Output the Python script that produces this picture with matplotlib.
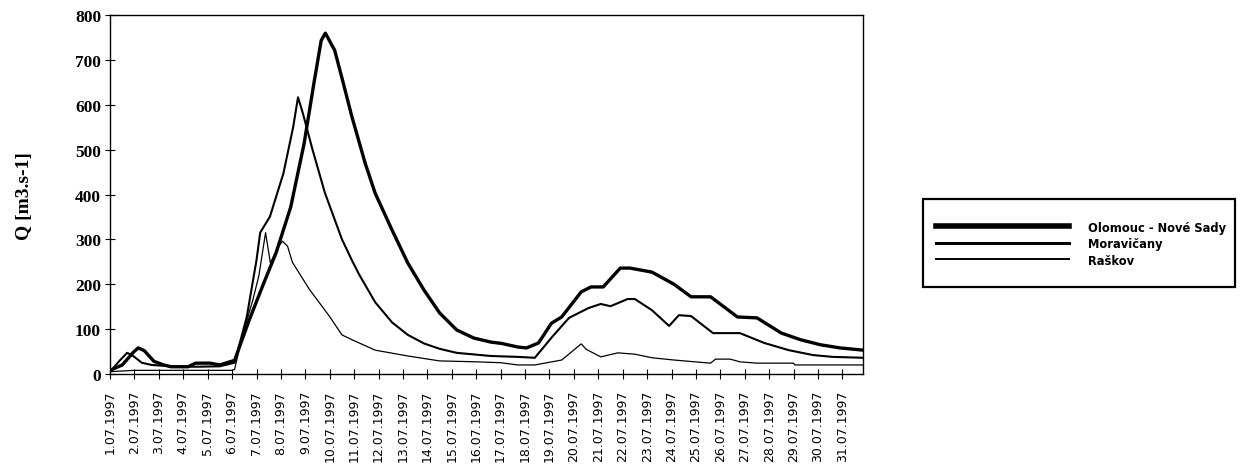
import matplotlib
matplotlib.use("Agg")
import matplotlib.pyplot as plt
from matplotlib.patches import Rectangle

# discharge readings, time in days of July 1997
olomouc_day = [1.0, 1.5, 1.95, 2.15, 2.4, 2.8, 3.2, 3.5, 4.2, 4.5, 5.1, 5.5, 5.9, 6.1,
               6.7, 7.3, 7.8, 8.4, 8.95, 9.35, 9.65, 9.82, 10.2, 10.5, 10.9,
               11.45, 11.86, 12.55, 13.2, 13.86, 14.5, 15.2, 15.9, 16.6, 17.04, 17.7,
               18.06, 18.55, 19.08, 19.5, 20.3, 20.7, 21.2, 21.9, 22.3, 23.2, 24.1,
               24.8, 25.6, 26.7, 27.5, 28.5, 29.3, 30.1, 30.9, 31.85]
olomouc_q = [8, 20, 48, 58, 52, 28, 20, 16, 16, 24, 24, 20, 27, 30,
             120, 203, 270, 372, 514, 648, 744, 760, 722, 660, 575,
             470, 403, 321, 247, 187, 136, 98, 80, 71, 68, 60,
             58, 69, 113, 127, 183, 194, 194, 236, 236, 227, 200,
             172, 172, 127, 125, 91, 76, 65, 58, 53]

moravicany_day = [1.0, 1.4, 1.7, 1.9, 2.3, 2.7, 3.5, 4.5, 5.5, 6.1, 6.6, 7.0, 7.15,
                  7.55, 8.1, 8.5, 8.7, 8.9, 9.3, 9.8, 10.5, 10.92, 11.2, 11.86,
                  12.55, 13.2, 13.86, 14.5, 15.2, 16.6, 17.7, 18.4, 19.1, 19.8,
                  20.6, 21.1, 21.5, 22.2, 22.5, 23.2, 23.9, 24.3, 24.8, 25.7, 26.8,
                  27.8, 28.8, 29.8, 30.6, 31.85]
moravicany_q = [5, 30, 47, 42, 25, 20, 17, 16, 17, 25, 127, 254, 315,
                351, 447, 550, 617, 581, 499, 404, 300, 252, 222, 160,
                115, 87, 68, 56, 47, 40, 38, 36, 82, 125,
                147, 156, 151, 167, 167, 142, 107, 131, 129, 91, 91,
                69, 53, 42, 38, 36]

raskov_day = [1.0, 2.0, 4.0, 6.0, 6.1, 6.45, 6.85, 7.1, 7.37, 7.57, 7.86, 8.06, 8.27,
              8.47, 9.16, 9.98, 10.5, 10.92, 11.86, 13.2, 14.5, 16.0, 17.0, 17.7,
              18.4, 19.5, 20.3, 20.5, 21.1, 21.8, 22.5, 23.2, 24.1, 25.6, 25.8,
              26.4, 26.8, 27.5, 29.0, 29.05, 31.85]
raskov_q = [5, 8, 8, 8, 10, 91, 165, 220, 315, 247, 281, 296, 285,
            249, 189, 129, 87, 76, 53, 40, 29, 27, 25, 20,
            20, 31, 67, 55, 38, 47, 44, 36, 31, 24, 33,
            33, 27, 24, 24, 20, 20]

series_names = ["Olomouc - Nové Sady", "Moravičany", "Raškov"]
days = list(range(1, 32))
day_labels = [f"{d}.07.1997" for d in days]

fig = plt.figure(figsize=(12.42, 4.77), dpi=100)
ax = fig.add_axes([0.0886, 0.214, 0.6064, 0.752])

l1, = ax.plot(olomouc_day, olomouc_q, color="black", lw=2.4)
l2, = ax.plot(moravicany_day, moravicany_q, color="black", lw=1.5)
l3, = ax.plot(raskov_day, raskov_q, color="black", lw=0.9)

ax.set_xlim(1, 31.85)
ax.set_ylim(0, 800)
ax.set_yticks(range(0, 801, 100))
ax.set_xticks(days)
ax.set_xticklabels(day_labels, rotation=90, fontsize=9, va="top")
for lab in ax.get_yticklabels():
    lab.set_fontfamily("Liberation Serif")
    lab.set_fontweight("bold")
    lab.set_fontsize(12.5)
ax.tick_params(axis="both", direction="inout", length=7, width=0.8)
ax.tick_params(axis="x", pad=8)
ax.tick_params(axis="y", pad=3)
for s in ax.spines.values():
    s.set_linewidth(1.0)

ax.set_ylabel("Q [m3.s-1]", fontfamily="Liberation Serif", fontweight="bold",
              fontsize=14, labelpad=30)

# legend box drawn separately so the padding can differ per side
fig.patches.append(Rectangle((923 / 1242, 1 - 288 / 477), 312 / 1242, 88 / 477,
                             transform=fig.transFigure, fill=False,
                             edgecolor="black", linewidth=1.6))
leg = fig.legend([l1, l2, l3], series_names,
                 loc="center left", bbox_to_anchor=(0.749, 1 - 245 / 477),
                 frameon=False, handlelength=11.5, handleheight=1.0,
                 prop={"weight": "bold", "size": 8.3},
                 borderpad=0, labelspacing=0.3, handletextpad=1.7)
for h, w in zip(leg.get_lines(), [4, 2.2, 1.4]):
    h.set_linewidth(w)

fig.savefig("out.png", dpi=100, facecolor="white")
